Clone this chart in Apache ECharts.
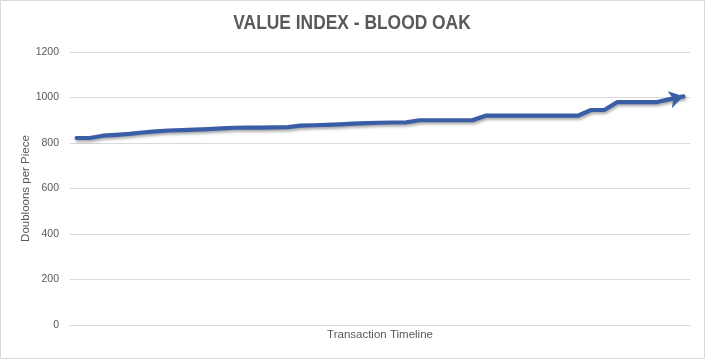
<!DOCTYPE html>
<html>
<head>
<meta charset="utf-8">
<script src="https://cdn.jsdelivr.net/npm/echarts@6/dist/echarts.min.js"></script>
<style>html,body{margin:0;padding:0;background:#fff}#c{width:705px;height:359px}</style>
</head>
<body>
<div id="c"></div>
<script>
const titleText = 'VALUE INDEX - BLOOD OAK';
const xAxisName = 'Transaction Timeline';
const yAxisName = 'Doubloons per Piece';
const yTicks = [0, 200, 400, 600, 800, 1000, 1200];
const categories = [];
const values = [822, 822, 832, 836, 840, 846, 851, 855, 857, 859, 861, 864, 867, 868, 868, 869, 870, 876, 878, 880, 882, 885, 887, 889, 890, 891, 900, 900, 900, 900, 900, 920, 920, 920, 920, 920, 920, 920, 920, 945, 945, 980, 980, 980, 980, 993, 1005];
for (let i = 0; i < values.length; i++) categories.push(String(i + 1));

const lineColor = '#3a5ea6';
const textColor = '#595959';
const seriesData = values.map((v, i) => {
  if (i === values.length - 1) {
    return {value: v, symbol: 'arrow', symbolSize: [13, 14], symbolRotate: -76,
      itemStyle: {color: lineColor}};
  }
  return v;
});

const chart = echarts.init(document.getElementById('c'), null, {renderer: 'canvas'});
chart.setOption({
  animation: false,
  backgroundColor: '#fff',
  graphic: [
    {type: 'rect', shape: {x: 0.5, y: 0.5, width: 704, height: 358}, style: {fill: 'none', stroke: '#d9d9d9', lineWidth: 1}, silent: true},
    {type: 'text', x: 352, y: 23, scaleX: 0.87, silent: true,
      style: {text: titleText, font: 'bold 20px "Liberation Sans", Arial, sans-serif', fill: textColor, textAlign: 'center', textVerticalAlign: 'middle'}}
  ],
  grid: {left: 70, right: 15, top: 52, bottom: 34, containLabel: false, outerBoundsMode: 'none'},
  xAxis: {
    type: 'category', data: categories, boundaryGap: true,
    name: xAxisName, nameLocation: 'middle', nameGap: 4, nameMoveOverlap: false,
    nameTextStyle: {fontFamily: '"Liberation Sans", sans-serif', fontSize: 11.5, color: textColor},
    axisLine: {show: true, lineStyle: {color: '#d9d9d9'}},
    axisTick: {show: false}, axisLabel: {show: false}, splitLine: {show: false}
  },
  yAxis: {
    type: 'value', min: yTicks[0], max: yTicks[yTicks.length - 1], interval: 200,
    name: yAxisName, nameLocation: 'middle', nameGap: 38, nameRotate: 90, nameMoveOverlap: false,
    nameTextStyle: {fontFamily: '"Liberation Sans", sans-serif', fontSize: 11.5, color: textColor},
    axisLine: {show: false}, axisTick: {show: false},
    axisLabel: {margin: 11, color: textColor, fontSize: 10.5, fontFamily: '"Liberation Sans", sans-serif', formatter: v => String(v)},
    splitLine: {lineStyle: {color: '#d9d9d9', width: 1}}
  },
  series: [{
    type: 'line', data: seriesData, showSymbol: true, symbol: 'none',
    lineStyle: {color: lineColor, width: 4.2, shadowColor: 'rgba(0,0,0,0.35)', shadowBlur: 3, shadowOffsetY: 2, shadowOffsetX: 1, cap: 'round', join: 'round'},
    itemStyle: {color: lineColor},
    emphasis: {disabled: true}
  }]
});
</script>
</body>
</html>
